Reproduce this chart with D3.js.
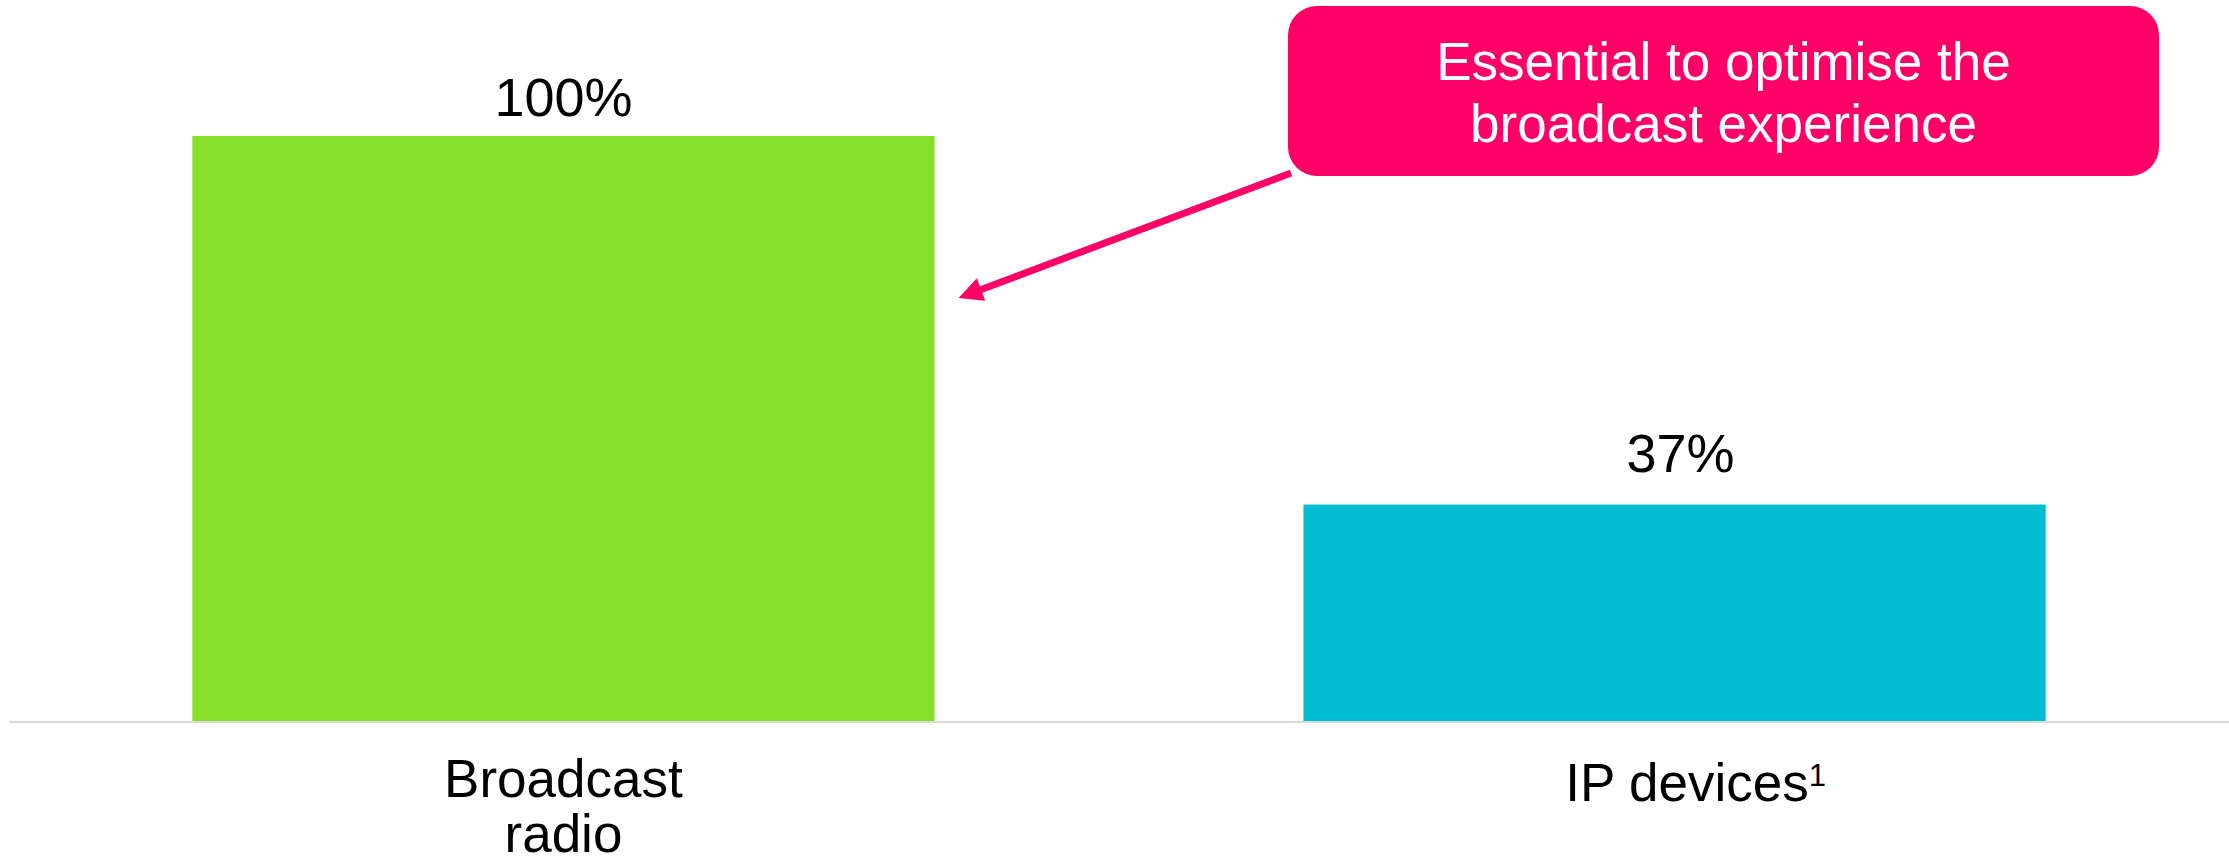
<!DOCTYPE html>
<html>
<head>
<meta charset="utf-8">
<script src="https://cdn.jsdelivr.net/npm/d3@7"></script>
<style>
  body { margin: 0; background: #fff; }
  svg { display: block; }
</style>
</head>
<body>
<div id="canvas"></div>
<script>
var w = 2229;
var h = 864;

// data
var categories = ["Broadcast radio", "IP devices"];
var labelLines = [["Broadcast", "radio"], ["IP devices"]];
var footnotes = ["", "1"];
var values = [100, 37];
var barColors = ["#88df2a", "#00bdd1"];
var calloutLines = ["Essential to optimise the", "broadcast experience"];

var font = "'Liberation Sans', Arial, sans-serif";
var pink = "#ff0066";

var canvas = d3.select("#canvas")
    .append("svg")
    .attr("width", w)
    .attr("height", h)
    .style("background-color", "white");

var xScale = d3.scaleBand()
    .domain(categories)
    .range([9, w])
    .paddingInner(0.332)
    .paddingOuter(0.165);

var yScale = d3.scaleLinear()
    .domain([0, 100])
    .range([721, 136]);

// bars
canvas.selectAll("rect.bar")
    .data(values)
    .join("rect")
    .attr("class", "bar")
    .attr("x", function (d, i) { return xScale(categories[i]); })
    .attr("y", function (d) { return yScale(d); })
    .attr("width", xScale.bandwidth())
    .attr("height", function (d) { return yScale(0) - yScale(d); })
    .attr("fill", function (d, i) { return barColors[i]; });

// baseline
canvas.append("line")
    .attr("x1", 9)
    .attr("x2", w)
    .attr("y1", yScale(0) + 1)
    .attr("y2", yScale(0) + 1)
    .attr("stroke", "#d9d9d9")
    .attr("stroke-width", 2);

// value labels
canvas.selectAll("text.value")
    .data(values)
    .join("text")
    .attr("class", "value")
    .attr("x", function (d, i) { return xScale(categories[i]) + xScale.bandwidth() / 2 + (i == 1 ? 6 : 0); })
    .attr("y", function (d, i) { return yScale(d) - (i == 1 ? 33 : 20); })
    .attr("text-anchor", "middle")
    .attr("font-family", font)
    .attr("font-size", "54px")
    .attr("fill", "black")
    .text(function (d) { return d + "%"; });

// category labels
categories.forEach(function (c, i) {
    var cx = xScale(c) + xScale.bandwidth() / 2 + (i == 1 ? 21 : 0);
    var t = canvas.append("text")
        .attr("x", cx)
        .attr("y", i == 0 ? 797 : 801)
        .attr("text-anchor", "middle")
        .attr("font-family", font)
        .attr("font-size", "53px")
        .attr("fill", "black");
    labelLines[i].forEach(function (line, j) {
        t.append("tspan")
            .attr("x", cx)
            .attr("dy", j == 0 ? 0 : 55)
            .text(line);
    });
    if (footnotes[i]) {
        t.append("tspan")
            .attr("dy", -15)
            .attr("font-size", "31px")
            .text(footnotes[i]);
    }
});

// callout box
var box = { x: 1288, y: 6, w: 871, h: 170 };
canvas.append("rect")
    .attr("x", box.x)
    .attr("y", box.y)
    .attr("width", box.w)
    .attr("height", box.h)
    .attr("rx", 29)
    .attr("fill", pink);

canvas.selectAll("text.callout")
    .data(calloutLines)
    .join("text")
    .attr("class", "callout")
    .attr("x", box.x + box.w / 2)
    .attr("y", function (d, i) { return 80 + i * 62; })
    .attr("text-anchor", "middle")
    .attr("font-family", font)
    .attr("font-size", "53px")
    .attr("fill", "white")
    .text(function (d) { return d; });

// arrow from callout to the broadcast bar
var tail = [box.x + 3, box.y + box.h - 3];
var tip = [xScale(categories[0]) + xScale.bandwidth() + 24, 298];
var dx = tip[0] - tail[0], dy = tip[1] - tail[1];
var len = Math.sqrt(dx * dx + dy * dy);
var ux = dx / len, uy = dy / len;
var headLen = 24, headHalf = 12;
var base = [tip[0] - ux * headLen, tip[1] - uy * headLen];

canvas.append("line")
    .attr("x1", tail[0])
    .attr("y1", tail[1])
    .attr("x2", base[0] + ux * 2)
    .attr("y2", base[1] + uy * 2)
    .attr("stroke", pink)
    .attr("stroke-width", 7);

canvas.append("path")
    .attr("d", d3.line()([
        tip,
        [base[0] - uy * headHalf, base[1] + ux * headHalf],
        [base[0] + uy * headHalf, base[1] - ux * headHalf]
    ]) + "Z")
    .attr("fill", pink);
</script>
</body>
</html>
